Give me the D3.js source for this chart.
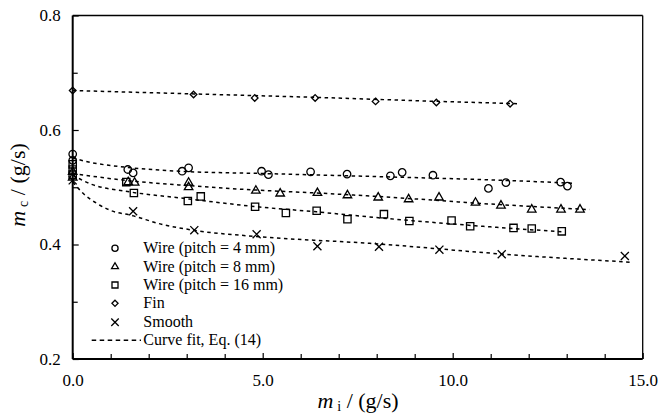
<!DOCTYPE html>
<html>
<head>
<meta charset="utf-8">
<script src="https://cdn.jsdelivr.net/npm/d3@7"></script>
<style>
  html, body { margin: 0; padding: 0; background: #fff; }
  svg { display: block; }
  svg text { font-family: "Liberation Serif", Tinos, "Times New Roman", "DejaVu Serif", serif; }
</style>
</head>
<body>
<svg id="chart" width="660" height="413"></svg>
<script>
// Measured condensate flow m_c against inlet flow m_i for each tube type
const wire4X = [0, 0, 1.45, 1.59, 2.88, 3.05, 4.97, 5.15, 6.26, 7.22, 8.36, 8.67, 9.48, 10.94, 11.40, 12.84, 13.02];
const wire4Y = [0.558, 0.547, 0.531, 0.525, 0.528, 0.534, 0.528, 0.522, 0.527, 0.523, 0.520, 0.526, 0.521, 0.498, 0.508, 0.509, 0.502];

const wire8X = [0, 0, 1.46, 1.63, 3.05, 3.05, 4.82, 5.46, 6.44, 7.23, 8.04, 8.84, 9.64, 10.60, 11.27, 12.08, 12.85, 13.35];
const wire8Y = [0.527, 0.517, 0.509, 0.508, 0.508, 0.500, 0.494, 0.489, 0.490, 0.486, 0.482, 0.479, 0.482, 0.473, 0.468, 0.461, 0.461, 0.461];

const wire16X = [0, 0, 0, 1.41, 1.61, 3.03, 3.37, 4.80, 5.61, 6.42, 7.23, 8.19, 8.86, 9.97, 10.46, 11.60, 12.08, 12.87];
const wire16Y = [0.540, 0.531, 0.522, 0.509, 0.490, 0.476, 0.484, 0.466, 0.455, 0.459, 0.444, 0.453, 0.441, 0.442, 0.432, 0.429, 0.428, 0.423];

const finX = [0, 3.18, 4.79, 6.38, 7.97, 9.57, 11.51];
const finY = [0.669, 0.662, 0.656, 0.656, 0.650, 0.648, 0.646];

const smoothX = [0, 1.59, 3.20, 4.84, 6.44, 8.06, 9.65, 11.29, 14.53];
const smoothY = [0.512, 0.458, 0.425, 0.418, 0.397, 0.396, 0.391, 0.383, 0.380];

// Curve fit, Eq. (14), traced for each tube type
const fitWire4X = [0, 0.5, 1.4, 2.8, 5.0, 7.8, 11.77, 13.15];
const fitWire4Y = [0.551, 0.543, 0.535, 0.528, 0.524, 0.519, 0.511, 0.507];
const fitWire8X = [0, 1.4, 3.0, 4.84, 6.42, 8.0, 11.16, 13.6];
const fitWire8Y = [0.524, 0.512, 0.503, 0.495, 0.490, 0.484, 0.470, 0.461];
const fitWire16X = [0, 0.5, 1.4, 3.0, 4.84, 6.42, 8.0, 11.16, 12.93];
const fitWire16Y = [0.521, 0.505, 0.493, 0.480, 0.466, 0.457, 0.447, 0.430, 0.422];
const fitFinX = [0, 3.2, 6.4, 9.6, 11.73];
const fitFinY = [0.669, 0.663, 0.657, 0.650, 0.646];
const fitSmoothX = [0, 0.28, 0.63, 0.98, 1.6, 2.3, 3.17, 4.82, 7.82, 11.77, 14.71];
const fitSmoothY = [0.509, 0.489, 0.472, 0.460, 0.450, 0.436, 0.425, 0.414, 0.402, 0.381, 0.369];

// Axis ticks
const xMajorTicks = [0, 5, 10, 15];
const xTickLabels = ["0.0", "5.0", "10.0", "15.0"];
const xMinorTicks = [1, 2, 3, 4, 6, 7, 8, 9, 11, 12, 13, 14];
const yMajorTicks = [0.2, 0.4, 0.6, 0.8];
const yTickLabels = ["0.2", "0.4", "0.6", "0.8"];
const yMinorTicks = [0.3, 0.5, 0.7];

const legendLabels = ["Wire (pitch = 4 mm)", "Wire (pitch = 8 mm)", "Wire (pitch = 16 mm)", "Fin", "Smooth", "Curve fit, Eq. (14)"];

const svg = d3.select("#chart");
const plotL = 72.7, plotR = 642.7, plotT = 15.5, plotB = 359;

const x = d3.scaleLinear().domain([0, 15]).range([plotL, plotR]);
const y = d3.scaleLinear().domain([0.2, 0.8]).range([plotB, plotT]);

const zip = (xs, ys) => xs.map((v, i) => [v, ys[i]]);

const series = [
  { pts: zip(wire4X, wire4Y),   fit: zip(fitWire4X, fitWire4Y),   type: d3.symbolCircle,    size: 44, lsize: 30 },
  { pts: zip(wire8X, wire8Y),   fit: zip(fitWire8X, fitWire8Y),   type: d3.symbolTriangle2, size: 52, lsize: 34 },
  { pts: zip(wire16X, wire16Y), fit: zip(fitWire16X, fitWire16Y), type: d3.symbolSquare2,   size: 68, lsize: 46 },
  { pts: zip(finX, finY),       fit: zip(fitFinX, fitFinY),       type: d3.symbolDiamond2,  size: 28, lsize: 24 },
  { pts: zip(smoothX, smoothY), fit: zip(fitSmoothX, fitSmoothY), type: d3.symbolTimes,     size: 44, lsize: 38 }
];

// Frame
svg.append("line").attr("x1", plotL).attr("x2", plotR).attr("y1", plotT).attr("y2", plotT)
  .attr("stroke", "#000").attr("stroke-width", 1.3);
svg.append("line").attr("x1", plotR).attr("x2", plotR).attr("y1", plotT).attr("y2", plotB)
  .attr("stroke", "#000").attr("stroke-width", 1.3);

// Inward ticks
const xMinor = svg.append("g").attr("transform", `translate(0,${plotB})`)
  .call(d3.axisBottom(x).tickValues(xMinorTicks).tickSize(-5).tickFormat(""));
const xMajor = svg.append("g").attr("transform", `translate(0,${plotB})`)
  .call(d3.axisBottom(x).tickValues(xMajorTicks).tickSizeInner(-6).tickSizeOuter(0)
    .tickPadding(15).tickFormat((d, i) => xTickLabels[i]));
const yMinor = svg.append("g").attr("transform", `translate(${plotL},0)`)
  .call(d3.axisLeft(y).tickValues(yMinorTicks).tickSize(-5).tickFormat(""));
const yMajor = svg.append("g").attr("transform", `translate(${plotL},0)`)
  .call(d3.axisLeft(y).tickValues(yMajorTicks).tickSizeInner(-6).tickSizeOuter(0)
    .tickPadding(12).tickFormat((d, i) => yTickLabels[i]));

[xMinor, xMajor, yMinor, yMajor].forEach(g => {
  g.selectAll(".domain").remove();
  g.attr("font-family", null).attr("font-size", null);
  g.selectAll(".tick line").attr("stroke", "#000").attr("stroke-width", 1.2);
  g.selectAll("text").attr("fill", "#000").style("font-size", "17px");
});

// Main axis lines
svg.append("line").attr("x1", plotL).attr("x2", plotR).attr("y1", plotB).attr("y2", plotB)
  .attr("stroke", "#000").attr("stroke-width", 2);
svg.append("line").attr("x1", plotL).attr("x2", plotL).attr("y1", plotT).attr("y2", plotB)
  .attr("stroke", "#000").attr("stroke-width", 2);

// Fitted curves
const line = d3.line().x(d => x(d[0])).y(d => y(d[1])).curve(d3.curveMonotoneX);
svg.append("g").selectAll("path").data(series).join("path")
  .attr("d", d => line(d.fit))
  .attr("fill", "none").attr("stroke", "#000").attr("stroke-width", 1.5)
  .attr("stroke-dasharray", "3.5,3.5");

// Data markers
series.forEach(s => {
  svg.append("g").selectAll("path").data(s.pts).join("path")
    .attr("transform", d => `translate(${x(d[0])},${y(d[1])})`)
    .attr("d", d3.symbol().type(s.type).size(s.size)())
    .attr("fill", "none").attr("stroke", "#000").attr("stroke-width", 1.3);
});

// Legend
const legY = [248.3, 266.7, 285, 303.3, 322.3, 340.3];
const legend = svg.append("g");
series.forEach((s, i) => {
  legend.append("path")
    .attr("transform", `translate(115,${legY[i]})`)
    .attr("d", d3.symbol().type(s.type).size(s.lsize)())
    .attr("fill", "none").attr("stroke", "#000").attr("stroke-width", 1.3);
});
legend.append("line").attr("x1", 91.7).attr("x2", 141).attr("y1", legY[5]).attr("y2", legY[5])
  .attr("stroke", "#000").attr("stroke-width", 1.5).attr("stroke-dasharray", "4.5,3.5");
legend.selectAll("text").data(legendLabels).join("text")
  .attr("x", 143.3).attr("y", (d, i) => legY[i] + 4.8)
  .style("font-size", "16px").text(d => d);

// Axis titles
const xt = svg.append("text").attr("x", 358).attr("y", 408).attr("text-anchor", "middle")
  .style("font-size", "22px");
xt.append("tspan").style("font-style", "italic").text("m");
xt.append("tspan").attr("dx", 4).attr("dy", 3).style("font-size", "14px").text("i");
xt.append("tspan").attr("dy", -3).text(" / (g/s)");

const yt = svg.append("text").attr("transform", "translate(25,185) rotate(-90)")
  .attr("text-anchor", "middle").style("font-size", "22px");
yt.append("tspan").style("font-style", "italic").text("m");
yt.append("tspan").attr("dx", 4).attr("dy", 3).style("font-size", "14px").text("c");
yt.append("tspan").attr("dy", -3).text(" / (g/s)");
</script>
</body>
</html>
